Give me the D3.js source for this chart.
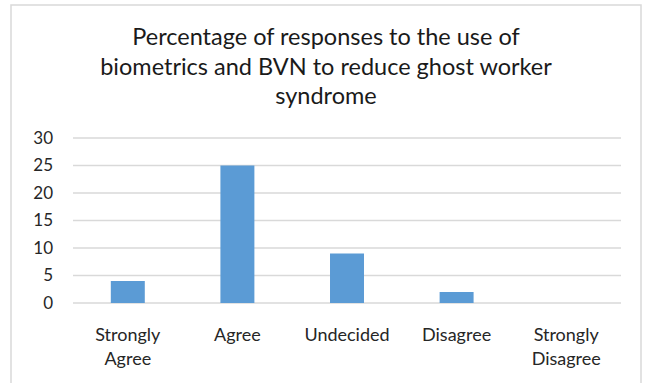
<!DOCTYPE html>
<html><head><meta charset="utf-8">
<script src="https://cdn.jsdelivr.net/npm/d3@7"></script>
<style>
html,body{margin:0;padding:0;background:#fff;}
svg{display:block;font-family:Lato,"Open Sans",sans-serif;}
</style></head>
<body><svg id="c" width="648" height="383"></svg>
<script>
const categories = [["Strongly","Agree"],["Agree"],["Undecided"],["Disagree"],["Strongly","Disagree"]];
const values = [4, 25, 9, 2, 0];
const yTicks = [0, 5, 10, 15, 20, 25, 30];
const titleLines = ["Percentage of responses to the use of","biometrics and BVN to reduce ghost worker","syndrome"];

const svg = d3.select("#c");
// chart frame
svg.append("rect").attr("x",11).attr("y",5).attr("width",630).attr("height",400)
  .attr("fill","#fff").attr("stroke","#d9d9d9").attr("stroke-width",1.5);

const x = d3.scaleBand().domain(d3.range(categories.length)).range([73,621]).paddingInner(0.69).paddingOuter(0.345);
const y = d3.scaleLinear().domain([0,30]).range([303,138]);

// gridlines
svg.append("g").selectAll("line").data(yTicks).join("line")
  .attr("x1",73).attr("x2",621).attr("y1",d=>y(d)).attr("y2",d=>y(d))
  .attr("stroke","#d9d9d9").attr("stroke-width",1.3);

// y axis labels
const yAxis = d3.axisLeft(y).tickValues(yTicks).tickSize(0).tickPadding(0);
const ga = svg.append("g").attr("transform","translate(53,0)").call(yAxis);
ga.select(".domain").remove();
ga.selectAll("text").attr("font-size",17).attr("fill","#262626").attr("font-family","Lato");

// bars
svg.append("g").selectAll("rect").data(values).join("rect")
  .attr("x",(d,i)=>x(i)).attr("width",x.bandwidth())
  .attr("y",d=>y(d)).attr("height",d=>y(0)-y(d))
  .attr("fill","#5b9bd5");

// category labels
const gl = svg.append("g");
categories.forEach((lines,i)=>{
  const t = gl.append("text").attr("x",x(i)+x.bandwidth()/2).attr("y",341)
    .attr("text-anchor","middle").attr("font-size",18).attr("fill","#262626");
  lines.forEach((l,j)=>t.append("tspan").attr("x",x(i)+x.bandwidth()/2).attr("dy",j?23.5:0).text(l));
});

// title
const tt = svg.append("text").attr("x",326).attr("y",45).attr("text-anchor","middle")
  .attr("font-size",23.5).attr("fill","#1a1a1a");
titleLines.forEach((l,j)=>tt.append("tspan").attr("x",326).attr("dy",j?29.5:0).text(l));
</script></body></html>
